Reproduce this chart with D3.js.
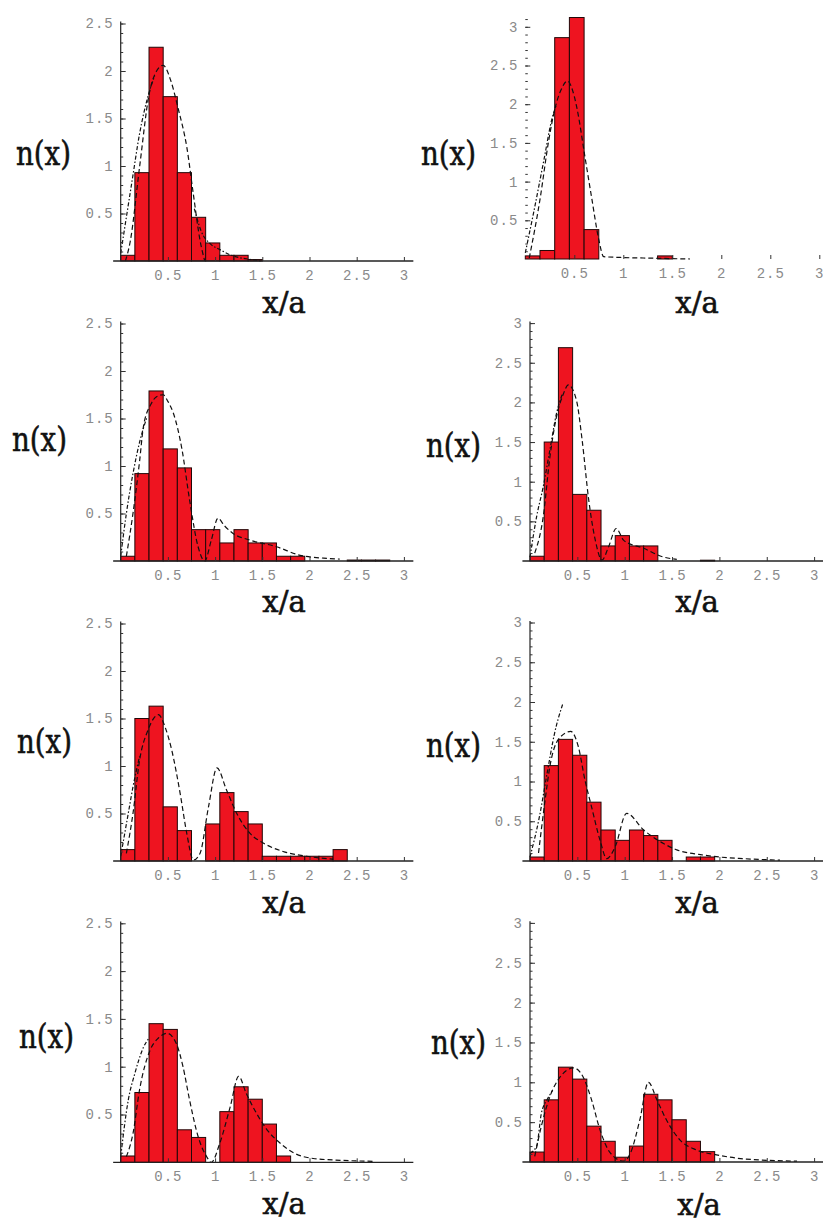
<!DOCTYPE html>
<html>
<head>
<meta charset="utf-8">
<script src="https://cdn.jsdelivr.net/npm/d3@7"></script>
<style>
  body { margin: 0; background: #fff; }
  .tick text { font-family: 'Liberation Mono', 'DejaVu Sans Mono', monospace; font-size: 14px; fill: #8a8a8a; letter-spacing: 1px; }
  .tick line { stroke: #333; }
  .lbl { font-family: 'DejaVu Serif', serif; fill: #111; stroke: #111; stroke-width: 0.6px; }
</style>
</head>
<body>
<svg width="823" height="1222"></svg>
<script>
var svg = d3.select('svg');

// histogram bin width (in x/a)
const binWidth = 0.15;

// tick values
const xTicks = [0.5, 1, 1.5, 2, 2.5, 3];
const yTicksL = [0.5, 1, 1.5, 2, 2.5];
const yTicksR = [0.5, 1, 1.5, 2, 2.5, 3];

// bar heights, one per bin starting at x = 0
const bars1 = [0.06, 0.93, 2.25, 1.73, 0.93, 0.46, 0.19, 0.06, 0.06, 0.015];
const bars2 = [0.04, 0.11, 2.86, 3.12, 0.38, 0, 0, 0, 0, 0.04];
const bars3 = [0.05, 0.92, 1.79, 1.18, 0.98, 0.33, 0.33, 0.19, 0.33, 0.19, 0.19, 0.05, 0.05, 0, 0, 0, 0.01, 0.01, 0.01];
const bars4 = [0.06, 1.5, 2.69, 0.84, 0.64, 0.19, 0.32, 0.19, 0.19, 0, 0, 0, 0.01];
const bars5 = [0.12, 1.5, 1.63, 0.57, 0.32, 0, 0.39, 0.72, 0.52, 0.39, 0.05, 0.05, 0.05, 0.05, 0.05, 0.12];
const bars6 = [0.05, 1.2, 1.53, 1.33, 0.74, 0.39, 0.26, 0.39, 0.32, 0.26, 0, 0.05, 0.05];
const bars7 = [0.066, 0.73, 1.45, 1.39, 0.34, 0.26, 0, 0.53, 0.79, 0.66, 0.4, 0.066];
const bars8 = [0.125, 0.78, 1.19, 1.04, 0.45, 0.26, 0.06, 0.2, 0.85, 0.78, 0.53, 0.26, 0.13];

// dashed fit curves [x, n(x)]
const fitA1 = [[0.05,0],[0.1,0.2],[0.2,0.99],[0.3,1.75],[0.38,2.0],[0.45,2.06],[0.53,1.9],[0.61,1.6],[0.7,1.2],[0.77,0.7],[0.84,0.22],[0.89,0]];
const fitA2 = [[0.04,0.01],[0.15,0.77],[0.24,1.54],[0.3,1.93],[0.37,2.2],[0.43,2.3],[0.5,2.1],[0.53,1.93],[0.61,1.31],[0.68,0.77],[0.75,0.25],[0.8,0.03],[0.97,0.02],[1.31,0.01],[1.68,0]];
const fitA3 = [[0.06,0.05],[0.13,0.5],[0.2,1.05],[0.24,1.41],[0.32,1.65],[0.38,1.73],[0.45,1.75],[0.5,1.68],[0.56,1.55],[0.65,1.17],[0.73,0.64],[0.82,0.15],[0.89,0],[0.96,0.22],[1.03,0.45],[1.1,0.37],[1.19,0.29],[1.37,0.22],[1.65,0.15],[1.9,0.06],[2.15,0.03],[2.32,0.02]];
const fitA4 = [[0.05,0.1],[0.14,0.56],[0.21,1.31],[0.28,1.82],[0.35,2.1],[0.405,2.22],[0.49,2.03],[0.55,1.53],[0.62,0.77],[0.69,0.26],[0.76,0.01],[0.83,0.18],[0.91,0.41],[0.99,0.26],[1.2,0.16],[1.41,0.05],[1.55,0.02]];
const fitA5 = [[0.06,0.08],[0.13,0.5],[0.2,1.06],[0.29,1.38],[0.4,1.54],[0.47,1.41],[0.54,1.17],[0.63,0.71],[0.7,0.29],[0.77,0.01],[0.84,0.08],[0.93,0.57],[1.02,0.98],[1.12,0.75],[1.23,0.5],[1.37,0.29],[1.51,0.19],[1.72,0.1],[1.97,0.05],[2.25,0.02]];
const fitA6 = [[0.09,0.1],[0.16,0.77],[0.21,1.19],[0.3,1.53],[0.43,1.63],[0.51,1.44],[0.58,1.02],[0.65,0.68],[0.74,0.26],[0.81,0.03],[0.9,0.18],[1.02,0.6],[1.2,0.39],[1.41,0.22],[1.55,0.14],[1.8,0.08],[2.0,0.05],[2.25,0.03],[2.64,0.01]];
const fitA7 = [[0.06,0.06],[0.13,0.3],[0.2,0.76],[0.31,1.17],[0.4,1.3],[0.49,1.35],[0.59,1.24],[0.66,1.0],[0.73,0.65],[0.82,0.27],[0.91,0.06],[0.96,0],[1.05,0.2],[1.16,0.58],[1.25,0.9],[1.33,0.72],[1.44,0.51],[1.55,0.34],[1.69,0.2],[1.83,0.1],[2.04,0.04],[2.25,0.025],[2.69,0.01]];
const fitA8 = [[0.05,0.07],[0.12,0.45],[0.21,0.82],[0.32,1.07],[0.46,1.18],[0.56,1.07],[0.65,0.78],[0.74,0.4],[0.85,0.11],[0.99,0.01],[1.06,0.11],[1.16,0.53],[1.25,1.0],[1.34,0.78],[1.44,0.53],[1.58,0.28],[1.76,0.15],[1.97,0.09],[2.25,0.04],[2.82,0.01]];

// dash-dot curves (null = break in the line)
const fitB1 = [[0,0.08],[0.12,0.84],[0.2,1.34],[0.28,1.7],[0.36,1.95],null,[0.78,0.55],[0.85,0.32],[0.95,0.18],[1.05,0.12],[1.2,0.05],[1.35,0.02],[1.5,0]];
const fitB2 = [[0,0.08],[0.085,0.6],[0.19,1.28],[0.27,1.8],[0.32,2.0]];
const fitB3 = [[0,0.05],[0.06,0.5],[0.13,0.92],[0.2,1.25],[0.28,1.52]];
const fitB4 = [[0,0.05],[0.07,0.56],[0.14,0.94],[0.21,1.4],[0.28,1.86],[0.34,2.1]];
const fitB5 = [[0,0.05],[0.08,0.5],[0.13,0.78],[0.2,1.1]];
const fitB6 = [[0,0.05],[0.1,0.56],[0.18,1.1],[0.26,1.61],[0.35,1.99]];
const fitB7 = [[0,0.06],[0.08,0.65],[0.15,0.93],[0.24,1.2],[0.3,1.3]];
const fitB8 = [[0,0.11],[0.07,0.2],[0.12,0.61],[0.18,0.78],[0.24,0.9]];

// layout of each panel: origin, px per unit, axis top, label spots
const panels = [
  {bars: bars1, fitA: fitA1, fitB: fitB1, ox: 120.7, base: 261, kx: 94.4, ky: 95, yTop: 2.52, yTicks: yTicksL, nx: [16, 165], xa: [284, 313]},
  {bars: bars2, fitA: fitA2, fitB: fitB2, ox: 525.3, base: 259, kx: 98, ky: 77.4, yTop: 3.18, yTicks: yTicksR, nx: [421, 165], xa: [697, 313], bare: true},
  {bars: bars3, fitA: fitA3, fitB: fitB3, ox: 120.7, base: 561, kx: 94.4, ky: 95, yTop: 2.52, yTicks: yTicksL, nx: [12, 451], xa: [284, 612]},
  {bars: bars4, fitA: fitA4, fitB: fitB4, ox: 530, base: 561, kx: 94.7, ky: 79.3, yTop: 3.02, yTicks: yTicksR, nx: [426, 457], xa: [697, 612]},
  {bars: bars5, fitA: fitA5, fitB: fitB5, ox: 120.7, base: 861, kx: 94.4, ky: 95, yTop: 2.52, yTicks: yTicksL, nx: [17, 753], xa: [284, 913]},
  {bars: bars6, fitA: fitA6, fitB: fitB6, ox: 530, base: 861, kx: 94.7, ky: 79.5, yTop: 3.02, yTicks: yTicksR, nx: [426, 757], xa: [697, 913]},
  {bars: bars7, fitA: fitA7, fitB: fitB7, ox: 120.7, base: 1162.3, kx: 94.4, ky: 95.6, yTop: 2.52, yTicks: yTicksL, nx: [19, 1048], xa: [284, 1214]},
  {bars: bars8, fitA: fitA8, fitB: fitB8, ox: 530, base: 1162, kx: 94.7, ky: 79.7, yTop: 3.02, yTicks: yTicksR, nx: [431, 1054], xa: [699, 1215]}
];

panels.forEach(function(p) {
  let x = d3.scaleLinear().domain([0, 3]).range([p.ox, p.ox + 3 * p.kx]);
  let y = d3.scaleLinear().domain([0, p.yTop]).range([p.base, p.base - p.yTop * p.ky]);
  let g = svg.append('g');

  // bars
  g.selectAll('rect').data(p.bars.map((v, i) => ({i: i, v: v})).filter(d => d.v > 0))
    .enter().append('rect')
    .attr('x', d => x(d.i * binWidth))
    .attr('width', d => x((d.i + 1) * binWidth) - x(d.i * binWidth))
    .attr('y', d => y(d.v))
    .attr('height', d => y(0) - y(d.v))
    .attr('fill', '#ee1420')
    .attr('stroke', '#220808')
    .attr('stroke-width', 1);

  // curves
  let line = d3.line().defined(d => d != null)
    .x(d => x(d[0])).y(d => y(d[1]))
    .curve(d3.curveMonotoneX);
  g.append('path').attr('d', line(p.fitA))
    .attr('fill', 'none').attr('stroke', '#111').attr('stroke-width', 1.2)
    .attr('stroke-dasharray', '5,3');
  g.append('path').attr('d', line(p.fitB))
    .attr('fill', 'none').attr('stroke', '#111').attr('stroke-width', 1.2)
    .attr('stroke-dasharray', '4,2,1.5,2');

  // axis lines
  if (!p.bare) {
    g.append('line').attr('x1', x(-0.08)).attr('x2', x(3.1))
      .attr('y1', y(0)).attr('y2', y(0))
      .attr('stroke', '#222').attr('stroke-width', 1.3);
    g.append('line').attr('x1', x(0)).attr('x2', x(0))
      .attr('y1', y(0)).attr('y2', y(p.yTop))
      .attr('stroke', '#222').attr('stroke-width', 1.2);
  }

  // x ticks
  let gx = g.append('g').attr('transform', 'translate(0,' + y(0) + ')')
    .call(d3.axisBottom(x).tickValues(xTicks).tickSizeInner(-4).tickSizeOuter(0)
      .tickPadding(9).tickFormat(d => String(d)));
  gx.select('.domain').remove();

  // y ticks, major and minor
  let gy = g.append('g').attr('transform', 'translate(' + x(0) + ',0)')
    .call(d3.axisLeft(y).tickValues(p.yTicks).tickSizeInner(-5).tickSizeOuter(0)
      .tickPadding(7).tickFormat(d => String(d)));
  gy.select('.domain').remove();
  let minor = d3.range(1, Math.floor(p.yTop * 10) + 1).map(i => i / 10);
  let gm = g.append('g').attr('transform', 'translate(' + x(0) + ',0)')
    .call(d3.axisLeft(y).tickValues(minor).tickSize(-2.5).tickFormat(''));
  gm.select('.domain').remove();

  // labels
  g.append('text').attr('class', 'lbl')
    .attr('x', p.nx[0]).attr('y', p.nx[1])
    .attr('font-size', 33)
    .attr('textLength', 55).attr('lengthAdjust', 'spacingAndGlyphs')
    .text('n(x)');
  g.append('text').attr('class', 'lbl')
    .attr('x', p.xa[0]).attr('y', p.xa[1])
    .attr('text-anchor', 'middle')
    .attr('font-size', 29)
    .text('x/a');
});
</script>
</body>
</html>
